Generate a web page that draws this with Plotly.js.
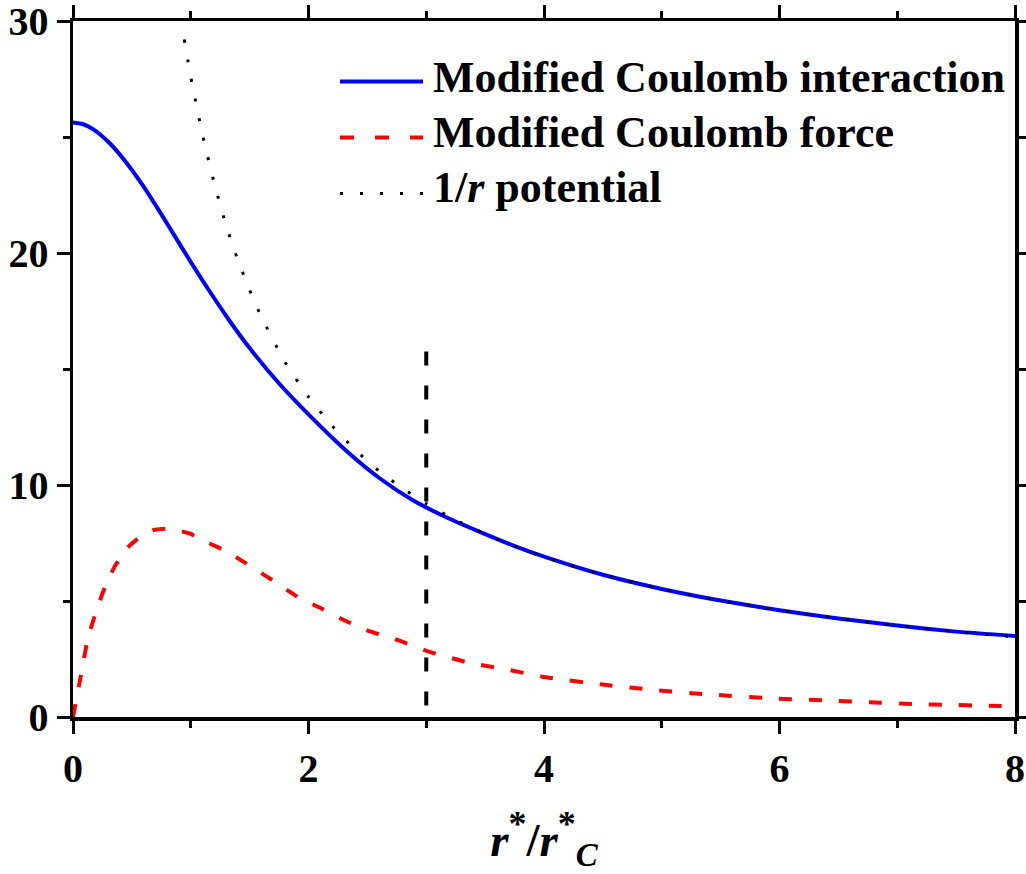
<!DOCTYPE html>
<html>
<head>
<meta charset="utf-8">
<script src="https://cdn.plot.ly/plotly-3.0.1.min.js"></script>
<style>html,body{margin:0;padding:0;background:#fff;}#chart{width:1026px;height:874px;}</style>
</head>
<body>
<div id="chart"></div>
<script>
// ---- data ----
const seriesNames = ["Modified Coulomb interaction", "Modified Coulomb force", "1/<i>r</i> potential"];

const interactionX = [0, 0.08, 0.17, 0.31, 0.46, 0.60, 0.74, 0.88, 1.02, 1.16, 1.31, 1.48, 1.76, 2.04, 2.32, 2.61, 2.89, 3.17, 3.46, 3.74, 4.02, 4.5, 5.0, 5.5, 6.0, 6.5, 7.0, 7.5, 8.0];
const interactionY = [25.63, 25.56, 25.34, 24.74, 23.85, 22.86, 21.75, 20.60, 19.45, 18.35, 17.22, 16.03, 14.32, 12.84, 11.48, 10.27, 9.33, 8.61, 7.97, 7.39, 6.88, 6.13, 5.52, 5.02, 4.60, 4.25, 3.94, 3.68, 3.49];

const forceX = [0, 0.06, 0.13, 0.24, 0.29, 0.36, 0.40, 0.47, 0.57, 0.68, 0.80, 0.88, 0.99, 1.09, 1.16, 1.31, 1.47, 1.65, 1.93, 2.11, 2.30, 2.49, 2.76, 3.03, 3.22, 3.39, 3.63, 4.02, 4.48, 4.94, 5.44, 5.94, 6.47, 6.81, 7.15, 7.45, 7.74, 8.0];
const forceY = [0, 1.6, 3.46, 5.18, 5.82, 6.54, 6.83, 7.33, 7.76, 8.05, 8.12, 8.05, 7.91, 7.65, 7.48, 7.12, 6.62, 6.04, 5.11, 4.68, 4.18, 3.75, 3.31, 2.81, 2.53, 2.31, 2.10, 1.71, 1.41, 1.16, 0.96, 0.80, 0.70, 0.63, 0.56, 0.52, 0.49, 0.47];

const potentialX = [0.945, 1.0, 1.1, 1.2, 1.3, 1.4, 1.5, 1.6, 1.8, 2.0, 2.2, 2.4, 2.6, 2.8, 3.0, 3.25, 3.5, 3.75, 4.0, 4.5, 5.0, 5.5, 6.0, 6.5, 7.0, 7.5, 8.0];
const potentialY = [29.2, 27.6, 25.1, 23.0, 21.2, 19.7, 18.4, 17.25, 15.3, 13.8, 12.55, 11.5, 10.6, 9.86, 9.2, 8.49, 7.89, 7.36, 6.9, 6.13, 5.52, 5.02, 4.6, 4.25, 3.94, 3.68, 3.45];

const cutoffX = [3, 3];
const cutoffY = [15.75, 0];

const xTickVals = [0, 2, 4, 6, 8];
const yTickVals = [0, 10, 20, 30];

// ---- styles ----
const FONT = "Liberation Serif, serif";
const BLUE = "#0000ff", RED = "#ff0000", BLACK = "#000000";
const styles = [
  {color: BLUE, width: 4, dash: "solid", legDash: "solid"},
  {color: RED, width: 4, dash: "13px,17px", legDash: "14px,21px"},
  {color: BLACK, width: 3, dash: "3px,17px", legDash: "3px,17px"}
];

const traces = [
  {x: interactionX, y: interactionY, name: seriesNames[0], mode: "lines",
   line: {color: styles[0].color, width: styles[0].width, shape: "spline", smoothing: 0.6}},
  {x: forceX, y: forceY, name: seriesNames[1], mode: "lines",
   line: {color: styles[1].color, width: styles[1].width, dash: styles[1].dash, shape: "spline", smoothing: 0.6}},
  {x: cutoffX, y: cutoffY, name: "cutoff", mode: "lines",
   line: {color: BLACK, width: 4, dash: "14px,20px"}},
  {x: potentialX, y: potentialY, name: seriesNames[2], mode: "lines",
   line: {color: styles[2].color, width: styles[2].width, dash: styles[2].dash, shape: "spline", smoothing: 0.6}}
];
traces.forEach(t => t.showlegend = false);

// custom legend (long line samples like the reference)
const M = {l: 73, r: 11, t: 20.5, b: 157};
const PW = 1026 - M.l - M.r, PH = 874 - M.t - M.b;
const px2x = p => (p - M.l) / PW;
const px2y = p => (874 - M.b - p) / PH;
const legRowsPx = [81, 137, 193];
const legTextPx = [77.5, 132.5, 187.5];
const shapes = [], annotations = [];
for (let i = 0; i < 3; i++) {
  shapes.push({type: "line", xref: "paper", yref: "paper",
    x0: px2x(340), x1: px2x(423), y0: px2y(legRowsPx[i]), y1: px2y(legRowsPx[i]),
    line: {color: styles[i].color, width: styles[i].width, dash: styles[i].legDash}});
  annotations.push({xref: "paper", yref: "paper", x: px2x(431), y: px2y(legTextPx[i]),
    xanchor: "left", yanchor: "middle", showarrow: false, text: seriesNames[i],
    font: {family: FONT, size: 44, color: BLACK, weight: "bold"}});
}

const axisCommon = {
  showgrid: false, zeroline: false, showline: true, linewidth: 3.5, linecolor: BLACK,
  mirror: "allticks", ticks: "outside", ticklen: 13, tickwidth: 3, tickcolor: BLACK,
  ticklabeloverflow: "allow",
  tickfont: {family: FONT, size: 40, color: BLACK, weight: "bold"},
  minor: {ticks: "outside", ticklen: 7, tickwidth: 3, tickcolor: BLACK, showgrid: false}
};

const layout = {
  width: 1026, height: 874,
  margin: M,
  paper_bgcolor: "#ffffff", plot_bgcolor: "#ffffff",
  showlegend: false,
  xaxis: Object.assign({}, axisCommon, {
    range: [0, 8], tickvals: xTickVals, ticktext: xTickVals.map(String),
    minor: Object.assign({}, axisCommon.minor, {dtick: 1, tick0: 0}),
    automargin: false,
    title: {text: "<i>r</i><sup><span style='font-size:36px'>*</span></sup>/<i>r</i><sup><span style='font-size:36px'>*</span></sup><sub><i>C</i></sub>",
            font: {family: FONT, size: 47, color: BLACK, weight: "bold"}, standoff: 34}
  }),
  yaxis: Object.assign({}, axisCommon, {
    range: [0, 30], tickvals: yTickVals, ticktext: yTickVals.map(String),
    minor: Object.assign({}, axisCommon.minor, {dtick: 5, tick0: 0}),
    automargin: false
  }),
  shapes: shapes,
  annotations: annotations
};

Plotly.newPlot("chart", traces, layout, {staticPlot: true, displayModeBar: false});
</script>
</body>
</html>
